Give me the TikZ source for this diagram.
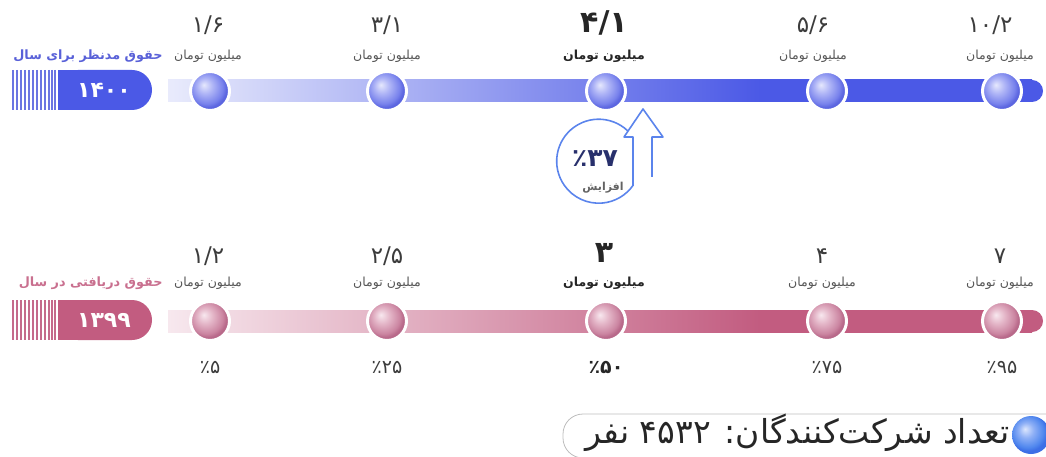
\documentclass[tikz,border=0pt]{standalone}
\usepackage{fontspec}
\usepackage{tikz}
\TeXXeTstate=1
\newfontfamily\fa[Script=Arabic]{DejaVu Sans}

\definecolor{royal}{HTML}{4B59E6}
\definecolor{lilac}{HTML}{E9EBFC}
\definecolor{royaltext}{HTML}{5961D8}
\definecolor{royalstripe}{HTML}{6B75E2}
\definecolor{rose}{HTML}{C25C80}
\definecolor{blush}{HTML}{F7E8EE}
\definecolor{rosetext}{HTML}{C9708F}
\definecolor{rosestripe}{HTML}{C56A8B}
\definecolor{ringblue}{HTML}{5B84EC}
\definecolor{navy}{HTML}{28306C}
\definecolor{numgray}{HTML}{3C3C3C}
\definecolor{unitgray}{HTML}{555555}
\definecolor{boxgray}{HTML}{BDBDBD}

\definecolor{royalhi}{HTML}{E6E8FD}
\definecolor{royalmid}{HTML}{AEB4F6}
\definecolor{royallo}{HTML}{7882EC}
\definecolor{royalrim}{HTML}{5C66E0}
\definecolor{rosehi}{HTML}{F8E8EF}
\definecolor{rosemid}{HTML}{E4B6C8}
\definecolor{roselo}{HTML}{CB85A1}
\definecolor{roserim}{HTML}{B8698A}
\definecolor{skyhi}{HTML}{DCE6FD}
\definecolor{skymid}{HTML}{8FB0F6}
\definecolor{skylo}{HTML}{5087EE}
\definecolor{skyrim}{HTML}{3D6FE6}

\pgfdeclareradialshading{globeroyal}{\pgfqpoint{-8bp}{8bp}}{color(0bp)=(royalhi); color(10bp)=(royalmid); color(21bp)=(royallo); color(25bp)=(royalrim); color(50bp)=(royalrim)}
\pgfdeclareradialshading{globerose}{\pgfqpoint{-8bp}{8bp}}{color(0bp)=(rosehi); color(10bp)=(rosemid); color(21bp)=(roselo); color(25bp)=(roserim); color(50bp)=(roserim)}
\pgfdeclareradialshading{globesky}{\pgfqpoint{-8bp}{8bp}}{color(0bp)=(skyhi); color(10bp)=(skymid); color(21bp)=(skylo); color(25bp)=(skyrim); color(50bp)=(skyrim)}

\begin{document}
\begin{tikzpicture}[
	x=1pt, y=-1pt, thick,
	num/.style={font=\fa\fontsize{23}{26}\selectfont, text=numgray, inner sep=0pt},
	numbig/.style={font=\fa\bfseries\fontsize{30}{34}\selectfont, text=black!85, inner sep=0pt},
	unit/.style={font=\fa\fontsize{12.5}{14}\selectfont, text=unitgray, inner sep=0pt},
	unitbig/.style={font=\fa\bfseries\fontsize{12.5}{14}\selectfont, text=black!85, inner sep=0pt},
	pct/.style={font=\fa\fontsize{19}{22}\selectfont, text=numgray, inner sep=0pt},
	pctbig/.style={font=\fa\bfseries\fontsize{19}{22}\selectfont, text=black!85, inner sep=0pt},
	ballA/.style={circle, minimum size=39pt, inner sep=0pt, shading=globeroyal, draw=white, line width=3pt},
	ballB/.style={circle, minimum size=39pt, inner sep=0pt, shading=globerose, draw=white, line width=3pt},
	year/.style={font=\fa\bfseries\fontsize{22}{24}\selectfont, text=white, inner sep=0pt},
	title/.style={font=\fa\bfseries\fontsize{12.8}{14}\selectfont, inner sep=0pt, anchor=east}
]
	\useasboundingbox (0,0) rectangle (1046,457);

	% 1400 row
	\draw[royalstripe, line width=1.3pt]
		(13,70) -- (13,110) (17,70) -- (17,110) (21,70) -- (21,110)
		(25,70) -- (25,110) (29,70) -- (29,110) (33,70) -- (33,110)
		(37,70) -- (37,110) (41,70) -- (41,110) (45,70) -- (45,110)
		(49,70) -- (49,110) (52,70) -- (52,110) (55,70) -- (55,110);
	\fill[royal, rounded corners=20pt] (58,70) rectangle (152,110);
	\fill[royal] (58,70) rectangle (110,110);
	\node[year] (y1400) at (104,90) {۱۴۰۰};
	\node[title, text=royaltext] (t1400) at (163,56) {\beginR حقوق مدنظر برای سال\endR};

	\fill[royal] (1032,91) circle (11);
	\shade[left color=royal, right color=royal] (759,80) rectangle (1032,102);
	\shade[left color=lilac, right color=royal] (168,80) rectangle (760,102);

	\node[ballA] (a1) at (210,91) {};
	\node[ballA] (a2) at (387,91) {};
	\node[ballA] (a3) at (606,91) {};
	\node[ballA] (a4) at (827,91) {};
	\node[ballA] (a5) at (1002,91) {};

	\node[num] (va1) at (208,25) {۱/۶};
	\node[num] (va2) at (387,25) {۳/۱};
	\node[numbig] (va3) at (604,23) {۴/۱};
	\node[num] (va4) at (813,25) {۵/۶};
	\node[num] (va5) at (990,25) {۱۰/۲};

	\node[unit] (ua1) at (208,56) {\beginR میلیون تومان\endR};
	\node[unit] (ua2) at (387,56) {\beginR میلیون تومان\endR};
	\node[unitbig] (ua3) at (604,56) {\beginR میلیون تومان\endR};
	\node[unit] (ua4) at (813,56) {\beginR میلیون تومان\endR};
	\node[unit] (ua5) at (1000,56) {\beginR میلیون تومان\endR};

	% growth badge
	\draw[ringblue, line width=1.6pt]
		(633,137) arc[start angle=-35.2, end angle=-324.8, radius=42] -- cycle;
	\draw[ringblue, line width=1.6pt, fill=white, line join=round]
		(633,185) -- (633,137) -- (624,137) -- (643,109) -- (663,137)
		-- (652,137) -- (652,177);
	\node[font=\fa\bfseries\fontsize{25}{28}\selectfont, text=navy, inner sep=0pt] (rise) at (595,159) {٪۳۷};
	\node[font=\fa\bfseries\fontsize{11}{13}\selectfont, text=numgray!80, inner sep=0pt] (risetxt) at (603,188) {\beginR افزایش\endR};

	% 1399 row
	\draw[rosestripe, line width=1.3pt]
		(13,300) -- (13,340) (17,300) -- (17,340) (21,300) -- (21,340)
		(25,300) -- (25,340) (29,300) -- (29,340) (33,300) -- (33,340)
		(37,300) -- (37,340) (41,300) -- (41,340) (45,300) -- (45,340)
		(49,300) -- (49,340) (52,300) -- (52,340) (55,300) -- (55,340);
	\fill[rose, rounded corners=20pt] (58,300) rectangle (152,340);
	\fill[rose] (58,300) rectangle (110,340);
	\node[year] (y1399) at (104,320) {۱۳۹۹};
	\node[title, text=rosetext] (t1399) at (163,283) {\beginR حقوق دریافتی در سال\endR};

	\fill[rose] (1032,321) circle (11);
	\shade[left color=rose, right color=rose] (759,310) rectangle (1032,332);
	\shade[left color=blush, right color=rose] (168,310) rectangle (760,332);

	\node[ballB] (b1) at (210,321) {};
	\node[ballB] (b2) at (387,321) {};
	\node[ballB] (b3) at (606,321) {};
	\node[ballB] (b4) at (827,321) {};
	\node[ballB] (b5) at (1002,321) {};

	\node[num] (vb1) at (208,256) {۱/۲};
	\node[num] (vb2) at (387,256) {۲/۵};
	\node[numbig] (vb3) at (604,253) {۳};
	\node[num] (vb4) at (822,256) {۴};
	\node[num] (vb5) at (1000,256) {۷};

	\node[unit] (ub1) at (208,283) {\beginR میلیون تومان\endR};
	\node[unit] (ub2) at (387,283) {\beginR میلیون تومان\endR};
	\node[unitbig] (ub3) at (604,283) {\beginR میلیون تومان\endR};
	\node[unit] (ub4) at (822,283) {\beginR میلیون تومان\endR};
	\node[unit] (ub5) at (1000,283) {\beginR میلیون تومان\endR};

	\node[pct] (pb1) at (210,367) {٪۵};
	\node[pct] (pb2) at (387,367) {٪۲۵};
	\node[pctbig] (pb3) at (606,367) {٪۵۰};
	\node[pct] (pb4) at (827,367) {٪۷۵};
	\node[pct] (pb5) at (1002,367) {٪۹۵};

	% participants
	\draw[boxgray, line width=0.8pt, rounded corners=20pt] (563,414) rectangle (1080,458);
	\node[circle, minimum size=38pt, inner sep=0pt, shading=globesky] (dot) at (1031,435) {};
	\node[anchor=east, font=\fa\fontsize{33}{37}\selectfont, text=black!85, inner sep=0pt] (count) at (1010,433)
		{\beginR تعداد شرکت‌کنندگان: \beginL۴۵۳۲\endL{} نفر\endR};
\end{tikzpicture}
\end{document}
